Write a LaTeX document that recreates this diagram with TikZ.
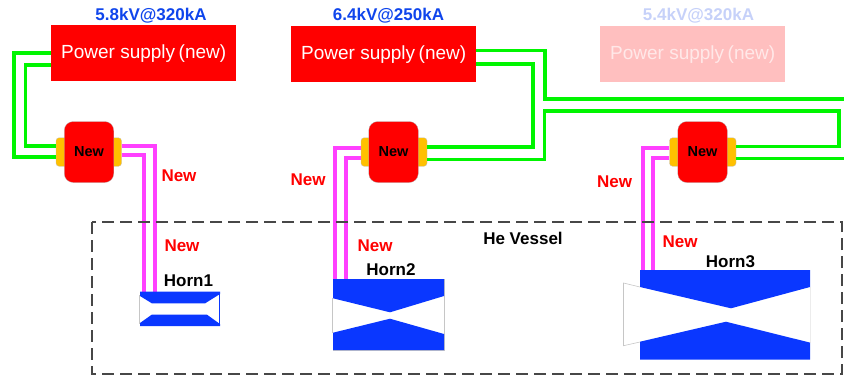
\documentclass[tikz,border=0pt]{standalone}
\usepackage{fontspec}
\setmainfont{Liberation Sans}
\definecolor{psred}{HTML}{FF0000}
\definecolor{psfade}{HTML}{FFBFBF}
\definecolor{psfadetext}{HTML}{FFE8E8}
\definecolor{lblue}{HTML}{0F45EC}
\definecolor{lfade}{HTML}{C6D1F9}
\definecolor{hornblue}{HTML}{0A37FF}
\definecolor{wgreen}{HTML}{00F500}
\definecolor{wpink}{HTML}{FF40FF}
\definecolor{torange}{HTML}{FFC000}
\tikzset{
  x=1pt,y=-1pt,
  psbox/.style={anchor=north west,inner sep=0pt,minimum width=185pt,minimum height=56pt,fill=psred,text=white,font=\fontsize{19}{21}\selectfont},
  swbox/.style={inner sep=0pt,minimum width=49.5pt,minimum height=61pt,fill=psred,rounded corners=9pt,draw=gray!60,line width=.3pt,font=\fontsize{14.5}{16}\selectfont\bfseries},
  tabbox/.style={inner sep=0pt,minimum width=17pt,minimum height=28.5pt,fill=torange,rounded corners=3pt,draw=gray!50,line width=.3pt},
  greenw/.style={draw=wgreen,line width=3.3pt,line join=miter},
  pinkw/.style={draw=wpink,line width=4pt,line join=miter},
  volt/.style={font=\fontsize{17}{19}\selectfont\bfseries,text=lblue,inner sep=0pt},
  newlbl/.style={font=\fontsize{17}{19}\selectfont\bfseries,text=red,inner sep=0pt},
  blk/.style={font=\fontsize{17}{19}\selectfont\bfseries,inner sep=0pt},
  hornb/.style={fill=hornblue,draw=none},
  hornl/.style={draw=gray!45,line width=.6pt},
}
\newcommand{\pstext}{\raisebox{-1.5pt}{Power supply\hspace{3.5pt}(new)}}
\begin{document}
\begin{tikzpicture}
\useasboundingbox (0,0) rectangle (844,376);
% power supplies
\node[psbox] (ps1) at (51,25) {\pstext};
\node[psbox] (ps2) at (291,26) {\pstext};
\node[psbox,fill=psfade,text=psfadetext] (ps3) at (600,26) {\pstext};
% tabs then boxes
\node[tabbox] (tl1) at (64.5,152) {};
\node[tabbox] (tr1) at (113,152) {};
\node[tabbox] (tl2) at (369.5,152) {};
\node[tabbox] (tr2) at (418.5,152) {};
\node[tabbox] (tl3) at (678,152) {};
\node[tabbox] (tr3) at (727.5,152) {};
\node[swbox] (sw1) at (89,152) {New};
\node[swbox] (sw2) at (393.5,152) {New};
\node[swbox] (sw3) at (702.5,152) {New};
% far-end coordinates
\coordinate (e1) at (844,99);
\coordinate (e2) at (844,158.5);
% green cables
\draw[greenw] (ps1.west |- 0,53) -| (14,157) -- (tl1.west |- 0,157);
\draw[greenw] (ps1.west |- 0,65) -| (25.5,146) -- (tl1.west |- 0,146);
\draw[greenw] (ps2.east |- 0,50.5) -| (545,99) -- (e1);
\draw[greenw] (ps2.east |- 0,64) -| (533,147) -- (tr2.east |- 0,147);
\draw[greenw] (tr2.east |- 0,159.5) -| (544.5,111) -| (839,146.5) -- (tr3.east |- 0,146.5);
\draw[greenw] (tr3.east |- 0,158.5) -- (e2);
% pink cables
\draw[pinkw] (tr1.east |- 0,146) -| (154.5,291.5);
\draw[pinkw] (tr1.east |- 0,155) -| (143.5,291.5);
\draw[pinkw] (tl2.west |- 0,148) -| (335,291);
\draw[pinkw] (tl2.west |- 0,158) -| (345.5,279);
\draw[pinkw] (tl3.west |- 0,148) -| (642.7,270);
\draw[pinkw] (tl3.west |- 0,158) -| (652.7,270);
% vessel
\draw[draw=black!72,line width=2pt,dash pattern=on 12pt off 6pt] (92,222) rectangle (842,374);
% horn 1
\draw[hornl] (139,295) -- (139,323) -- (140.5,323);
\fill[hornb] (140,291.7) -- (220,291.7) -- (220,294) -- (205,303.4) -- (152,303.4) -- (140,296) -- cycle;
\fill[hornb] (140,326) -- (220,326) -- (220,324) -- (207,314.7) -- (151.7,314.7) -- (140,323) -- cycle;
\draw[draw=hornblue,line width=.8pt] (219.6,292) -- (219.6,326);
% horn 2
\draw[hornl] (444.5,279) -- (444.5,350.3) -- (333,350.3);
\fill[hornb] (333,279) -- (444,279) -- (444,296) -- (390,312.3) -- (333,298.3) -- cycle;
\fill[hornb] (333,332.7) -- (390,318.7) -- (444,334) -- (444,350) -- (333,350) -- cycle;
\draw[hornl] (332.5,298) -- (332.5,333);
% horn 3
\draw[hornl] (640,287) -- (623.5,283) -- (623.5,345.7) -- (640,342);
\draw[draw=gray!15,line width=.5pt] (810,287) -- (810,342.5);
\fill[hornb] (640,270) -- (810,270) -- (810,287) -- (731,308.3) -- (640,287) -- cycle;
\fill[hornb] (640,341.7) -- (726,321.7) -- (810,342.6) -- (810,359.5) -- (640,359.5) -- cycle;
% labels
\node[volt] (v1) at (151,15.5) {5.8kV@320kA};
\node[volt] (v2) at (388.5,15.5) {6.4kV@250kA};
\node[volt,text=lfade] (v3) at (698.5,15.5) {5.4kV@320kA};
\node[newlbl] (n1) at (179,176) {New};
\node[newlbl] (n2) at (308,180) {New};
\node[newlbl] (n3) at (614.5,182) {New};
\node[newlbl] (n4) at (182,246) {New};
\node[newlbl] (n5) at (375,246) {New};
\node[newlbl] (n6) at (680,242) {New};
\node[blk] (h1) at (188.5,281) {Horn1};
\node[blk] (h2) at (391,270) {Horn2};
\node[blk] (h3) at (730.5,261.5) {Horn3};
\node[blk] (he) at (523,238) {He Vessel};
\end{tikzpicture}
\end{document}
